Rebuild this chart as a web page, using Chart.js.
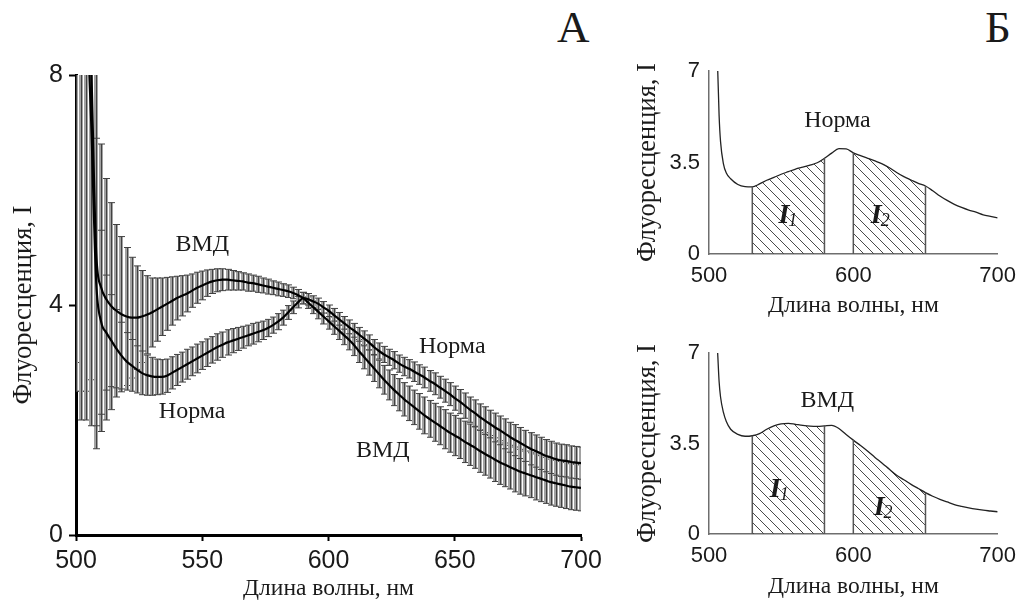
<!DOCTYPE html>
<html lang="ru">
<head>
<meta charset="UTF-8" />
<title>Флуоресценция</title>
<style>
  body { margin: 0; background: #fff; width: 1025px; height: 601px; position: relative; overflow: hidden; }
  canvas { position: absolute; }
  .letter { position: absolute; font: 45px 'Liberation Serif', serif; line-height: 45px; color: #1a1a1a; }
</style>
</head>
<body>

<div class="letter" style="left:557px; top:5px;">А</div>
<div class="letter" style="left:985px; top:5px;">Б</div>

<canvas id="chartA" width="610" height="601" style="left:0; top:0;"></canvas>
<canvas id="chartNorm" width="405" height="280" style="left:620px; top:40px;"></canvas>
<canvas id="chartVmd" width="405" height="281" style="left:620px; top:320px;"></canvas>

<script src="https://cdn.jsdelivr.net/npm/chart.js"></script>
<script>
  // ---- panel A: mean spectra +- SD, every 2 nm ----
  const wlA = [
    500, 502, 504, 506, 508, 510, 512, 514, 516, 518,
    520, 522, 524, 526, 528, 530, 532, 534, 536, 538,
    540, 542, 544, 546, 548, 550, 552, 554, 556, 558,
    560, 562, 564, 566, 568, 570, 572, 574, 576, 578,
    580, 582, 584, 586, 588, 590, 592, 594, 596, 598,
    600, 602, 604, 606, 608, 610, 612, 614, 616, 618,
    620, 622, 624, 626, 628, 630, 632, 634, 636, 638,
    640, 642, 644, 646, 648, 650, 652, 654, 656, 658,
    660, 662, 664, 666, 668, 670, 672, 674, 676, 678,
    680, 682, 684, 686, 688, 690, 692, 694, 696, 698,
    700
  ];
  const vmdA = [
    13, 12, 10.5, 8.2, 4.9, 4.3, 4.1, 3.98, 3.9, 3.84,
    3.8, 3.78, 3.78, 3.8, 3.83, 3.87, 3.92, 3.97, 4.02, 4.07,
    4.12, 4.16, 4.2, 4.25, 4.3, 4.34, 4.38, 4.41, 4.43, 4.44,
    4.44, 4.43, 4.42, 4.41, 4.39, 4.38, 4.36, 4.34, 4.32, 4.3,
    4.28, 4.26, 4.24, 4.21, 4.17, 4.12, 4.04, 3.96, 3.88, 3.8,
    3.72, 3.64, 3.56, 3.48, 3.4, 3.31, 3.2, 3.1, 3.0, 2.9,
    2.8, 2.7, 2.61, 2.52, 2.44, 2.36, 2.29, 2.22, 2.15, 2.08,
    2.02, 1.96, 1.9, 1.84, 1.78, 1.73, 1.68, 1.62, 1.57, 1.52,
    1.46, 1.41, 1.36, 1.31, 1.26, 1.22, 1.18, 1.14, 1.1, 1.07,
    1.04, 1.01, 0.98, 0.95, 0.92, 0.9, 0.88, 0.86, 0.84, 0.83,
    0.82
  ];
  const vmdErrA = [
    10, 9.5, 8, 5.5, 3.4, 2.5, 2.1, 1.8, 1.5, 1.35,
    1.2, 1.05, 0.9, 0.8, 0.68, 0.6, 0.55, 0.5, 0.46, 0.42,
    0.38, 0.35, 0.32, 0.29, 0.27, 0.25, 0.23, 0.21, 0.2, 0.19,
    0.18, 0.17, 0.16, 0.15, 0.15, 0.14, 0.14, 0.13, 0.13, 0.12,
    0.12, 0.11, 0.11, 0.1, 0.1, 0.1, 0.1, 0.11, 0.12, 0.13,
    0.14, 0.15, 0.16, 0.17, 0.18, 0.19, 0.2, 0.21, 0.22, 0.23,
    0.24, 0.25, 0.26, 0.27, 0.28, 0.29, 0.3, 0.3, 0.31, 0.32,
    0.32, 0.33, 0.33, 0.34, 0.34, 0.35, 0.35, 0.36, 0.36, 0.36,
    0.37, 0.37, 0.37, 0.38, 0.38, 0.38, 0.38, 0.39, 0.39, 0.39,
    0.39, 0.4, 0.4, 0.4, 0.4, 0.4, 0.4, 0.4, 0.4, 0.4,
    0.4
  ];
  const normA = [
    12, 11, 9.5, 7.2, 4.4, 3.7, 3.52, 3.38, 3.24, 3.12,
    3.02, 2.95, 2.88, 2.82, 2.78, 2.76, 2.75, 2.75, 2.77, 2.82,
    2.87, 2.92, 2.97, 3.02, 3.07, 3.12, 3.17, 3.22, 3.27, 3.31,
    3.35, 3.38, 3.41, 3.44, 3.47, 3.5, 3.53, 3.56, 3.6, 3.65,
    3.71, 3.78, 3.87, 3.96, 4.05, 4.12, 4.1, 4.06, 4.02, 3.96,
    3.9, 3.83, 3.76, 3.69, 3.62, 3.56, 3.49, 3.42, 3.35, 3.27,
    3.2, 3.14, 3.09, 3.04, 2.98, 2.93, 2.89, 2.84, 2.79, 2.74,
    2.68, 2.63, 2.57, 2.51, 2.45, 2.38, 2.32, 2.25, 2.18, 2.12,
    2.05, 1.99, 1.93, 1.87, 1.82, 1.76, 1.7, 1.65, 1.6, 1.55,
    1.5, 1.46, 1.42, 1.38, 1.35, 1.32, 1.3, 1.29, 1.27, 1.26,
    1.25
  ];
  const normErrA = [
    9.5, 9, 7.5, 5.3, 2.5, 1.6, 1.0, 0.8, 0.68, 0.58,
    0.5, 0.45, 0.41, 0.38, 0.35, 0.33, 0.31, 0.3, 0.29, 0.28,
    0.27, 0.26, 0.26, 0.25, 0.25, 0.24, 0.24, 0.23, 0.23, 0.22,
    0.22, 0.21, 0.2, 0.19, 0.18, 0.18, 0.17, 0.16, 0.15, 0.14,
    0.14, 0.13, 0.12, 0.11, 0.1, 0.1, 0.1, 0.1, 0.1, 0.1,
    0.1, 0.11, 0.11, 0.11, 0.12, 0.12, 0.12, 0.13, 0.13, 0.13,
    0.14, 0.14, 0.14, 0.15, 0.15, 0.16, 0.16, 0.17, 0.17, 0.18,
    0.18, 0.19, 0.19, 0.2, 0.2, 0.21, 0.21, 0.22, 0.22, 0.23,
    0.23, 0.24, 0.24, 0.25, 0.25, 0.26, 0.26, 0.27, 0.27, 0.27,
    0.28, 0.28, 0.28, 0.28, 0.28, 0.28, 0.28, 0.28, 0.28, 0.28,
    0.28
  ];
  const ticksAx = [500, 550, 600, 650, 700];
  const ticksAy = [0, 4, 8];

  // ---- panel Б: single spectra ----
  const wlB = [
    505, 506, 507, 508, 510, 512, 515, 520, 525,
    530, 535, 540, 545, 550, 555, 560, 565, 570, 575,
    580, 585, 590, 595, 600, 605, 610, 615, 620, 625,
    630, 635, 640, 645, 650, 655, 660, 665, 670, 675,
    680, 685, 690, 695, 700
  ];
  const normB = [
    8, 7.1, 5.3, 4.3, 3.45, 3.1, 2.88, 2.66, 2.58,
    2.57, 2.68, 2.82, 2.93, 3.05, 3.15, 3.25, 3.32, 3.4, 3.49,
    3.66, 3.86, 4.03, 4.02, 3.87, 3.76, 3.66, 3.56, 3.45, 3.3,
    3.12, 2.96, 2.83, 2.7, 2.6, 2.42, 2.22, 2.05, 1.9, 1.78,
    1.68, 1.6, 1.5, 1.44, 1.38
  ];
  const vmdB = [
    8, 7.0, 5.9, 5.3, 4.7, 4.35, 4.05, 3.85, 3.78,
    3.8, 3.88, 4.05, 4.18, 4.26, 4.28, 4.24, 4.2, 4.17, 4.16,
    4.18, 4.2, 4.08, 3.85, 3.63, 3.42, 3.2, 2.96, 2.74, 2.5,
    2.27, 2.1, 1.92, 1.76, 1.6, 1.46, 1.34, 1.24, 1.14, 1.07,
    1.01, 0.96, 0.92, 0.89, 0.86
  ];
  const bandI1 = [530, 580];
  const bandI2 = [600, 650];
  const ticksBx = [500, 600, 700];
  const ticksBy = [0, 3.5, 7];

  const INK = '#1a1a1a';
  const SERIF = 'Liberation Serif';
  const SANS = 'Liberation Sans';

  function toXY(xs, ys) {
    return xs.map((x, i) => ({ x: x, y: ys[i] }));
  }

  // vertical SD bars, drawn under the mean lines
  const errorBars = {
    id: 'errorBars',
    beforeDatasetsDraw(chart) {
      const { ctx, chartArea, scales: { x, y } } = chart;
      ctx.save();
      ctx.beginPath();
      ctx.rect(chartArea.left, chartArea.top, chartArea.width, chartArea.height);
      ctx.clip();
      chart.data.datasets.forEach(ds => {
        if (!ds.errors) return;
        ds.data.forEach((p, i) => {
          const e = ds.errors[i];
          const px = Math.round(x.getPixelForValue(p.x));
          const top = y.getPixelForValue(p.y + e);
          const bot = y.getPixelForValue(p.y - e);
          ctx.fillStyle = '#a2a2a2';
          ctx.fillRect(px - 2, top, 4, bot - top);
          ctx.strokeStyle = '#424242';
          ctx.lineWidth = 1;
          ctx.beginPath();
          ctx.moveTo(px + 0.5, top); ctx.lineTo(px + 0.5, bot);
          ctx.moveTo(px - 3, top); ctx.lineTo(px + 4, top);
          ctx.moveTo(px - 3, bot); ctx.lineTo(px + 4, bot);
          ctx.stroke();
        });
      });
      ctx.restore();
    }
  };

  // text labels placed in data units
  const notes = {
    id: 'notes',
    afterDatasetsDraw(chart, args, opts) {
      const { ctx, scales: { x, y } } = chart;
      ctx.save();
      ctx.fillStyle = INK;
      ctx.textBaseline = 'middle';
      (opts.items || []).forEach(n => {
        const cx = x.getPixelForValue(n.x);
        const cy = y.getPixelForValue(n.y);
        if (n.sub) {
          ctx.font = 'italic bold 28px "' + SERIF + '"';
          const w1 = ctx.measureText(n.text).width;
          ctx.font = 'italic 18px "' + SERIF + '"';
          const w2 = ctx.measureText(n.sub).width;
          const x0 = cx - (w1 + w2) / 2;
          ctx.textAlign = 'left';
          ctx.font = 'italic bold 28px "' + SERIF + '"';
          ctx.fillText(n.text, x0, cy);
          ctx.font = 'italic 18px "' + SERIF + '"';
          ctx.fillText(n.sub, x0 + w1 - 1, cy + 5);
        } else {
          ctx.textAlign = 'center';
          ctx.font = '24px "' + SERIF + '"';
          ctx.fillText(n.text, cx, cy);
        }
      });
      ctx.restore();
    }
  };

  // vertical borders of the integration bands
  const bandEdges = {
    id: 'bandEdges',
    afterDatasetsDraw(chart, args, opts) {
      const { ctx, scales: { x, y } } = chart;
      const src = chart.data.datasets[0].data;
      ctx.save();
      ctx.strokeStyle = '#555';
      ctx.lineWidth = 1.5;
      (opts.bands || []).forEach(b => b.forEach(edge => {
        const p = src.find(d => d.x === edge);
        const px = x.getPixelForValue(edge);
        ctx.beginPath();
        ctx.moveTo(px, y.getPixelForValue(p.y));
        ctx.lineTo(px, y.getPixelForValue(0));
        ctx.stroke();
      }));
      ctx.restore();
    }
  };

  function makeHatch(ctx) {
    const c = document.createElement('canvas');
    c.width = 10; c.height = 10;
    const g = c.getContext('2d');
    g.strokeStyle = '#4a4a4a';
    g.lineWidth = 1;
    g.beginPath();
    g.moveTo(-2, -2); g.lineTo(12, 12);
    g.moveTo(-2, 8); g.lineTo(2, 12);
    g.moveTo(8, -2); g.lineTo(12, 2);
    g.stroke();
    return ctx.createPattern(c, 'repeat');
  }

  // ---------- chart A ----------
  new Chart(document.getElementById('chartA'), {
    type: 'line',
    data: {
      datasets: [
        { label: 'ВМД', data: toXY(wlA, vmdA), errors: vmdErrA, borderColor: '#000', borderWidth: 2.2, pointRadius: 0, cubicInterpolationMode: 'monotone' },
        { label: 'Норма', data: toXY(wlA, normA), errors: normErrA, borderColor: '#000', borderWidth: 2.2, pointRadius: 0, cubicInterpolationMode: 'monotone' }
      ]
    },
    options: {
      responsive: false,
      animation: false,
      devicePixelRatio: 1,
      layout: { padding: { left: 0, top: 75, right: 29, bottom: 0 } },
      plugins: {
        legend: { display: false },
        tooltip: { enabled: false },
        notes: { items: [
          { text: 'ВМД', x: 550, y: 5.05 },
          { text: 'Норма', x: 546, y: 2.14 },
          { text: 'Норма', x: 649, y: 3.27 },
          { text: 'ВМД', x: 621.5, y: 1.46 }
        ] }
      },
      scales: {
        x: {
          type: 'linear', min: 500, max: 700,
          afterFit: s => { s.height = 66; },
          afterBuildTicks: s => { s.ticks = ticksAx.map(v => ({ value: v })); },
          grid: { drawOnChartArea: false, tickLength: 6, tickWidth: 2, tickColor: '#000' },
          border: { color: '#000', width: 3 },
          ticks: { font: { family: SANS, size: 25 }, color: INK, padding: 5, maxRotation: 0 },
          title: { display: true, text: 'Длина волны, нм', font: { family: SERIF, size: 23.5 }, color: INK, padding: { top: 0, bottom: -2 } }
        },
        y: {
          min: 0, max: 8,
          afterFit: s => { s.width = 76; },
          afterBuildTicks: s => { s.ticks = ticksAy.map(v => ({ value: v })); },
          grid: { drawOnChartArea: false, tickLength: 7, tickWidth: 2, tickColor: '#000' },
          border: { color: '#000', width: 3 },
          ticks: { font: { family: SANS, size: 25 }, color: INK, padding: 6 },
          title: { display: true, text: 'Флуоресценция, I', font: { family: SERIF, size: 26.5 }, color: INK, padding: { top: 8, bottom: 0 } }
        }
      }
    },
    plugins: [errorBars, notes]
  });

  // ---------- chart Б (two small panels) ----------
  function smallChart(id, series, topPad, axisH, label, marks) {
    const el = document.getElementById(id);
    const hatch = makeHatch(el.getContext('2d'));
    const pts = toXY(wlB, series);
    const band = r => pts.filter(p => p.x >= r[0] && p.x <= r[1]);
    return new Chart(el, {
      type: 'line',
      data: {
        datasets: [
          { data: pts, borderColor: '#222', borderWidth: 1.3, pointRadius: 0, cubicInterpolationMode: 'monotone', order: 0 },
          { data: band(bandI1), borderWidth: 0, pointRadius: 0, cubicInterpolationMode: 'monotone', fill: 'origin', backgroundColor: hatch, order: 1 },
          { data: band(bandI2), borderWidth: 0, pointRadius: 0, cubicInterpolationMode: 'monotone', fill: 'origin', backgroundColor: hatch, order: 1 }
        ]
      },
      options: {
        responsive: false,
        animation: false,
        devicePixelRatio: 1,
        layout: { padding: { left: 0, top: topPad, right: 19, bottom: 0 } },
        plugins: {
          legend: { display: false },
          tooltip: { enabled: false },
          notes: { items: [{ text: label.text, x: label.x, y: label.y }].concat(marks) },
          bandEdges: { bands: [bandI1, bandI2] }
        },
        scales: {
          x: {
            type: 'linear', min: 500, max: 700,
            afterFit: s => { s.height = axisH; },
            afterBuildTicks: s => { s.ticks = ticksBx.map(v => ({ value: v })); },
            grid: { drawOnChartArea: false, drawTicks: false },
            border: { color: '#6e6e6e', width: 1.5 },
            ticks: { font: { family: SANS, size: 22 }, color: INK, padding: 9, maxRotation: 0 },
            title: { display: true, text: 'Длина волны, нм', font: { family: SERIF, size: 23.5 }, color: INK, padding: 0 }
          },
          y: {
            min: 0, max: 7,
            afterFit: s => { s.width = 89; },
            afterBuildTicks: s => { s.ticks = ticksBy.map(v => ({ value: v })); },
            grid: { drawOnChartArea: false, drawTicks: false },
            border: { color: '#6e6e6e', width: 1.5 },
            ticks: { font: { family: SANS, size: 22 }, color: INK, padding: 9 },
            title: { display: true, text: 'Флуоресценция, I', font: { family: SERIF, size: 26.5 }, color: INK, padding: { top: 12, bottom: 0 } }
          }
        }
      },
      plugins: [bandEdges, notes]
    });
  }

  smallChart('chartNorm', normB, 31, 66,
    { text: 'Норма', x: 589, y: 5.1 },
    [{ text: 'I', sub: '1', x: 555, y: 1.45 }, { text: 'I', sub: '2', x: 619, y: 1.45 }]);

  smallChart('chartVmd', vmdB, 33, 67,
    { text: 'ВМД', x: 582, y: 5.17 },
    [{ text: 'I', sub: '1', x: 549, y: 1.7 }, { text: 'I', sub: '2', x: 621, y: 1.0 }]);
</script>

</body>
</html>
